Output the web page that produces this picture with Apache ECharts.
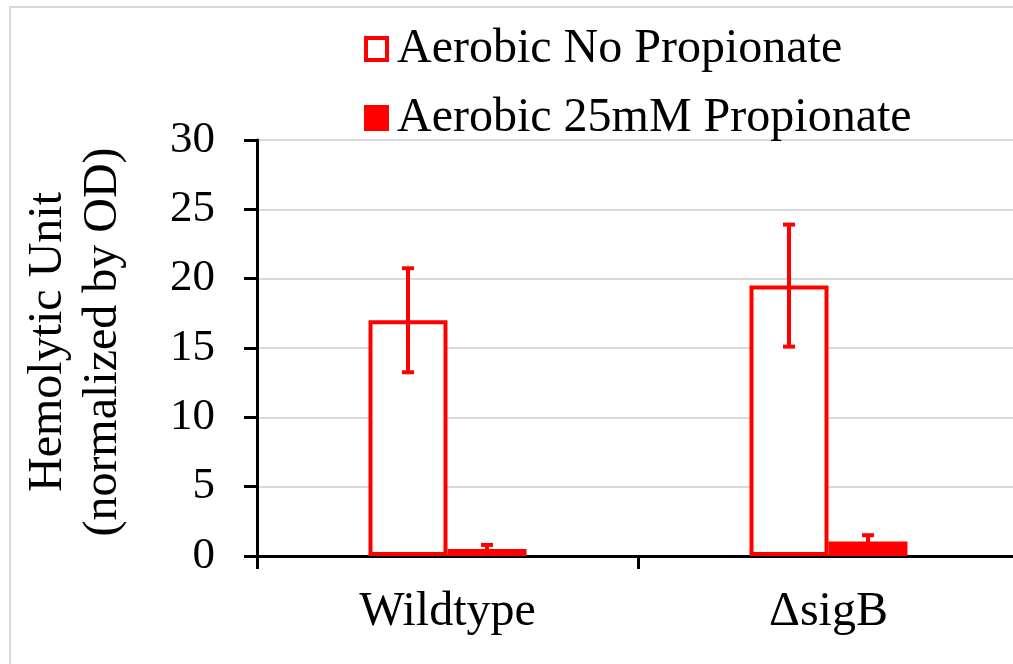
<!DOCTYPE html>
<html>
<head>
<meta charset="utf-8">
<script src="https://cdn.jsdelivr.net/npm/echarts@6/dist/echarts.min.js"></script>
<style>
    html, body { margin: 0; padding: 0; background: #fff; }
    #chart { width: 1013px; height: 664px; }
</style>
</head>
<body>
<div id="chart"></div>
<script>
// data
var categories = ["Wildtype", "\u0394sigB"];
var seriesNames = ["Aerobic No Propionate", "Aerobic 25mM Propionate"];
var noPropMean = [17.0, 19.5];
var noPropErr = [3.75, 4.4];
var propMean = [0.5, 1.05];
var propErr = [0.3, 0.45];
var yTicks = {min: 0, max: 30, step: 5};

var FONT = "Liberation Serif";
var RED = "#ff0000";
var BAR_W = 79;

var chart = echarts.init(document.getElementById("chart"));

// error bar drawn at the centre of one of the two bars in a group
function errorBars(means, errs, side) {
    return {
        type: "custom",
        z: 5,
        silent: true,
        data: means.map(function (m, i) { return [i, m - errs[i], m + errs[i]]; }),
        renderItem: function (params, api) {
            var lo = api.coord([api.value(0), api.value(1)]);
            var hi = api.coord([api.value(0), api.value(2)]);
            var x = lo[0] + side * BAR_W / 2;
            var cap = 6;
            var st = {stroke: RED, lineWidth: 4};
            return {
                type: "group",
                children: [
                    {type: "line", shape: {x1: x, y1: lo[1], x2: x, y2: hi[1]}, style: st},
                    {type: "line", shape: {x1: x - cap, y1: hi[1], x2: x + cap, y2: hi[1]}, style: st},
                    {type: "line", shape: {x1: x - cap, y1: lo[1], x2: x + cap, y2: lo[1]}, style: st}
                ]
            };
        }
    };
}

var option = {
    backgroundColor: "#fff",
    animation: false,
    graphic: [{
        type: "rect",
        shape: {x: 10, y: 7, width: 1200, height: 800},
        style: {fill: null, stroke: "#d9d9d9", lineWidth: 2},
        silent: true
    }],
    legend: {
        orient: "vertical",
        left: 359,
        top: 18,
        itemWidth: 21,
        itemHeight: 22,
        itemGap: 17,
        icon: "rect",
        textStyle: {fontFamily: FONT, fontSize: 48, color: "#000", lineHeight: 52, padding: [0, 0, 0, 5]},
        data: [
            {name: seriesNames[0], itemStyle: {color: "#fff", borderColor: RED, borderWidth: 4}},
            {name: seriesNames[1], itemStyle: {color: RED, borderColor: RED, borderWidth: 4}}
        ]
    },
    grid: {left: 257, top: 140, width: 762, height: 416, outerBoundsMode: "none"},
    xAxis: {
        type: "category",
        data: categories,
        axisLine: {lineStyle: {color: "#000", width: 3}},
        axisTick: {show: true, length: 13, lineStyle: {color: "#000", width: 3}},
        axisLabel: {fontFamily: FONT, fontSize: 48, color: "#000", margin: 32}
    },
    yAxis: {
        type: "value",
        min: yTicks.min,
        max: yTicks.max,
        interval: yTicks.step,
        name: "Hemolytic Unit\n(normalized by OD)",
        nameLocation: "middle",
        nameRotate: 90,
        nameGap: 126,
        nameTextStyle: {fontFamily: FONT, fontSize: 48, color: "#000", lineHeight: 55, padding: [0, 0, 0, 12]},
        axisLine: {show: true, lineStyle: {color: "#000", width: 3}},
        axisTick: {show: true, length: 13, lineStyle: {color: "#000", width: 3}},
        axisLabel: {fontFamily: FONT, fontSize: 45, color: "#000", margin: 42},
        splitLine: {lineStyle: {color: "#d9d9d9", width: 2}}
    },
    series: [
        {
            name: seriesNames[0],
            type: "bar",
            data: noPropMean,
            barWidth: BAR_W,
            barGap: "0%",
            itemStyle: {color: "#fff", borderColor: RED, borderWidth: 4}
        },
        {
            name: seriesNames[1],
            type: "bar",
            data: propMean,
            barWidth: BAR_W,
            barGap: "0%",
            itemStyle: {color: RED, borderColor: RED, borderWidth: 3}
        },
        errorBars(noPropMean, noPropErr, -1),
        errorBars(propMean, propErr, 1)
    ]
};

chart.setOption(option);
</script>
</body>
</html>
